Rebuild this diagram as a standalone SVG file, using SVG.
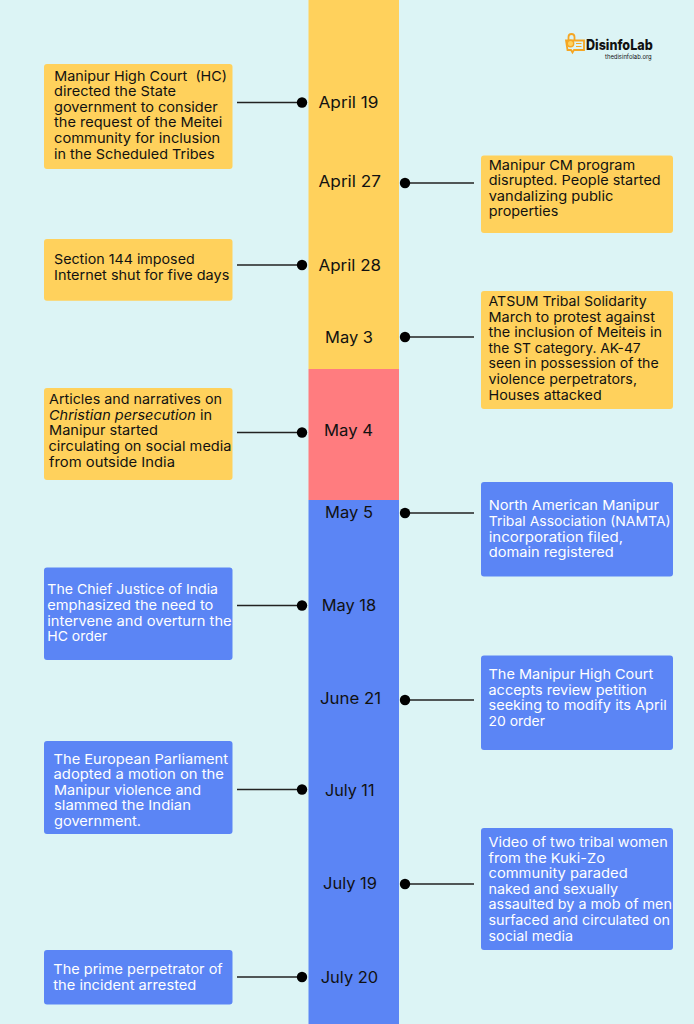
<svg xmlns="http://www.w3.org/2000/svg" width="694" height="1024" viewBox="0 0 694 1024">
<style>
text{font-family:"Inter","Noto Sans","Liberation Sans",sans-serif;fill:#111}
.c{font-size:13.6px}
.w{fill:#fff}
.d{font-size:15.5px;font-weight:400}
.y{fill:#ffd15c}.b{fill:#5b85f5}
.l{stroke:#222;stroke-width:1.6;fill:none}
.o{fill:#000}
</style>
<rect width="694" height="1024" fill="#dcf4f5"/>
<g id="timeline">
<rect class="y" x="308.500" y="0" width="90.500" height="369"/>
<rect x="308.500" y="369" width="90.500" height="131" fill="#ff7c7f"/>
<rect class="b" x="308.500" y="500" width="90.500" height="524"/>
</g>
<g id="connectors">
<path class="l" d="M237 102.500H302M237 265H302M237 432.500H302M237 605.500H302M237 789.500H302M237 977H302M405 183H474M405 337H474M405 513H474M405 700H474M405 884H474"/>
<circle class="o" cx="302" cy="102.500" r="5.200"/><circle class="o" cx="302" cy="265" r="5.200"/><circle class="o" cx="302" cy="432.500" r="5.200"/><circle class="o" cx="302" cy="605.500" r="5.200"/><circle class="o" cx="302" cy="789.500" r="5.200"/><circle class="o" cx="302" cy="977" r="5.200"/>
<circle class="o" cx="405" cy="183" r="5.200"/><circle class="o" cx="405" cy="337" r="5.200"/><circle class="o" cx="405" cy="513" r="5.200"/><circle class="o" cx="405" cy="700" r="5.200"/><circle class="o" cx="405" cy="884" r="5.200"/>
</g>
<g id="dates">
<text class="d" x="318.500" y="107.500" textLength="60" lengthAdjust="spacingAndGlyphs">April 19</text>
<text class="d" x="318.500" y="187" textLength="62.500" lengthAdjust="spacingAndGlyphs">April 27</text>
<text class="d" x="318.500" y="270.500" textLength="62.500" lengthAdjust="spacingAndGlyphs">April 28</text>
<text class="d" x="325" y="343" textLength="48" lengthAdjust="spacingAndGlyphs">May 3</text>
<text class="d" x="324" y="436" textLength="49" lengthAdjust="spacingAndGlyphs">May 4</text>
<text class="d" x="325" y="518" textLength="48" lengthAdjust="spacingAndGlyphs">May 5</text>
<text class="d" x="321.700" y="611" textLength="54.500" lengthAdjust="spacingAndGlyphs">May 18</text>
<text class="d" x="320" y="704" textLength="61" lengthAdjust="spacingAndGlyphs">June 21</text>
<text class="d" x="325" y="795.500" textLength="49.500" lengthAdjust="spacingAndGlyphs">July 11</text>
<text class="d" x="323" y="889" textLength="54" lengthAdjust="spacingAndGlyphs">July 19</text>
<text class="d" x="320.700" y="982.500" textLength="57.500" lengthAdjust="spacingAndGlyphs">July 20</text>
</g>
<g id="card-1"><rect class="y" x="44" y="64" width="188.500" height="105" rx="3"/>
<text class="c" x="54.300" y="80.500" textLength="172.700" lengthAdjust="spacingAndGlyphs" xml:space="preserve">Manipur High Court  (HC)</text>
<text class="c" x="54" y="96" textLength="122" lengthAdjust="spacingAndGlyphs">directed the State</text>
<text class="c" x="54" y="112" textLength="163.700" lengthAdjust="spacingAndGlyphs">government to consider</text>
<text class="c" x="54" y="127" textLength="168.300" lengthAdjust="spacingAndGlyphs">the request of the Meitei</text>
<text class="c" x="54" y="143" textLength="166.300" lengthAdjust="spacingAndGlyphs">community for inclusion</text>
<text class="c" x="54" y="158.500" textLength="160.500" lengthAdjust="spacingAndGlyphs">in the Scheduled Tribes</text></g>
<g id="card-2"><rect class="y" x="481" y="155.500" width="192" height="77.500" rx="3"/>
<text class="c" x="488.700" y="169.500" textLength="146.600" lengthAdjust="spacingAndGlyphs">Manipur CM program</text>
<text class="c" x="488.700" y="185" textLength="172" lengthAdjust="spacingAndGlyphs">disrupted. People started</text>
<text class="c" x="488.700" y="200.700" textLength="124.600" lengthAdjust="spacingAndGlyphs">vandalizing public</text>
<text class="c" x="488.700" y="216" textLength="69.600" lengthAdjust="spacingAndGlyphs">properties</text></g>
<g id="card-3"><rect class="y" x="44" y="239" width="188.500" height="61.700" rx="3"/>
<text class="c" x="54" y="264.300" textLength="140.700" lengthAdjust="spacingAndGlyphs">Section 144 imposed</text>
<text class="c" x="54" y="279.700" textLength="175.300" lengthAdjust="spacingAndGlyphs">Internet shut for five days</text></g>
<g id="card-4"><rect class="y" x="481" y="291" width="192" height="118" rx="3"/>
<text class="c" x="488.500" y="305.700" textLength="158.200" lengthAdjust="spacingAndGlyphs">ATSUM Tribal Solidarity</text>
<text class="c" x="488.500" y="321.500" textLength="166.500" lengthAdjust="spacingAndGlyphs">March to protest against</text>
<text class="c" x="488.500" y="337" textLength="173.500" lengthAdjust="spacingAndGlyphs">the inclusion of Meiteis in</text>
<text class="c" x="488.500" y="352.700" textLength="152.200" lengthAdjust="spacingAndGlyphs">the ST category. AK-47</text>
<text class="c" x="488.500" y="368.300" textLength="170.200" lengthAdjust="spacingAndGlyphs">seen in possession of the</text>
<text class="c" x="488.500" y="384" textLength="148.500" lengthAdjust="spacingAndGlyphs">violence perpetrators,</text>
<text class="c" x="488.500" y="399.700" textLength="113.200" lengthAdjust="spacingAndGlyphs">Houses attacked</text></g>
<g id="card-5"><rect class="y" x="44" y="388" width="188.500" height="92" rx="3"/>
<text class="c" x="49" y="404" textLength="173" lengthAdjust="spacingAndGlyphs">Articles and narratives on</text>
<text class="c" x="49" y="420" textLength="163" lengthAdjust="spacingAndGlyphs"><tspan font-style="italic">Christian persecution</tspan> in</text>
<text class="c" x="49" y="435" textLength="109" lengthAdjust="spacingAndGlyphs">Manipur started</text>
<text class="c" x="48.500" y="451" textLength="183" lengthAdjust="spacingAndGlyphs">circulating on social media</text>
<text class="c" x="49" y="467" textLength="126" lengthAdjust="spacingAndGlyphs">from outside India</text></g>
<g id="card-6"><rect class="b" x="481" y="482" width="192" height="94.500" rx="3"/>
<text class="c w" x="488.700" y="510.300" textLength="170.300" lengthAdjust="spacingAndGlyphs">North American Manipur</text>
<text class="c w" x="488.700" y="526" textLength="182" lengthAdjust="spacingAndGlyphs">Tribal Association (NAMTA)</text>
<text class="c w" x="488.700" y="541.700" textLength="134.300" lengthAdjust="spacingAndGlyphs">incorporation filed,</text>
<text class="c w" x="488.700" y="557.300" textLength="125" lengthAdjust="spacingAndGlyphs">domain registered</text></g>
<g id="card-7"><rect class="b" x="44" y="567.500" width="188.500" height="92.500" rx="3"/>
<text class="c w" x="47.300" y="594.300" textLength="170.700" lengthAdjust="spacingAndGlyphs">The Chief Justice of India</text>
<text class="c w" x="47.300" y="610" textLength="166" lengthAdjust="spacingAndGlyphs">emphasized the need to</text>
<text class="c w" x="47.300" y="625.700" textLength="184.400" lengthAdjust="spacingAndGlyphs">intervene and overturn the</text>
<text class="c w" x="47.300" y="641.300" textLength="60" lengthAdjust="spacingAndGlyphs">HC order</text></g>
<g id="card-8"><rect class="b" x="481" y="655.500" width="192" height="94.500" rx="3"/>
<text class="c w" x="488.500" y="679" textLength="164.800" lengthAdjust="spacingAndGlyphs">The Manipur High Court</text>
<text class="c w" x="488.500" y="694.700" textLength="158.200" lengthAdjust="spacingAndGlyphs">accepts review petition</text>
<text class="c w" x="488.500" y="710.300" textLength="178.200" lengthAdjust="spacingAndGlyphs">seeking to modify its April</text>
<text class="c w" x="488.500" y="726" textLength="56.500" lengthAdjust="spacingAndGlyphs">20 order</text></g>
<g id="card-9"><rect class="b" x="44" y="741" width="188.500" height="93" rx="3"/>
<text class="c w" x="53.500" y="763.500" textLength="174.500" lengthAdjust="spacingAndGlyphs">The European Parliament</text>
<text class="c w" x="53.500" y="779" textLength="170.500" lengthAdjust="spacingAndGlyphs">adopted a motion on the</text>
<text class="c w" x="54" y="794.500" textLength="147" lengthAdjust="spacingAndGlyphs">Manipur violence and</text>
<text class="c w" x="54" y="810" textLength="137" lengthAdjust="spacingAndGlyphs">slammed the Indian</text>
<text class="c w" x="54" y="825.700" textLength="87" lengthAdjust="spacingAndGlyphs">government.</text></g>
<g id="card-10"><rect class="b" x="481" y="828" width="192" height="122" rx="3"/>
<text class="c w" x="488.500" y="846.700" textLength="179.200" lengthAdjust="spacingAndGlyphs">Video of two tribal women</text>
<text class="c w" x="488.500" y="862.500" textLength="116.500" lengthAdjust="spacingAndGlyphs">from the Kuki-Zo</text>
<text class="c w" x="488.500" y="878" textLength="139.200" lengthAdjust="spacingAndGlyphs">community paraded</text>
<text class="c w" x="488.500" y="893.700" textLength="129.500" lengthAdjust="spacingAndGlyphs">naked and sexually</text>
<text class="c w" x="488.500" y="909.300" textLength="183.500" lengthAdjust="spacingAndGlyphs">assaulted by a mob of men</text>
<text class="c w" x="488.500" y="925" textLength="181.500" lengthAdjust="spacingAndGlyphs">surfaced and circulated on</text>
<text class="c w" x="488.500" y="940.700" textLength="84.500" lengthAdjust="spacingAndGlyphs">social media</text></g>
<g id="card-11"><rect class="b" x="44" y="950" width="188.500" height="54.500" rx="3"/>
<text class="c w" x="53.300" y="974.300" textLength="169.400" lengthAdjust="spacingAndGlyphs">The prime perpetrator of</text>
<text class="c w" x="53.300" y="989.700" textLength="143" lengthAdjust="spacingAndGlyphs">the incident arrested</text></g>
<g id="logo">
<path d="M568.500 40.500V37a3 3 0 1 1 6 0V40.500M566 40.500H584V50H574L572.500 52.500L571 50H567.500Z" fill="none" stroke="#f5a623" stroke-width="1.800"/>
<circle cx="570.500" cy="43.500" r="3.200" fill="#ffd15c" stroke="#f5a623" stroke-width="1.400"/>
<path d="M576 43.500H581.500M576 46.500H581.500" stroke="#f5a623" stroke-width="1.200"/>
<text x="586" y="50" font-size="14.500" font-weight="800" textLength="66.700" lengthAdjust="spacingAndGlyphs">DisinfoLab</text>
<text x="605" y="59.300" font-size="6.500" textLength="46.700" lengthAdjust="spacingAndGlyphs">thedisinfolab.org</text>
</g>
</svg>
